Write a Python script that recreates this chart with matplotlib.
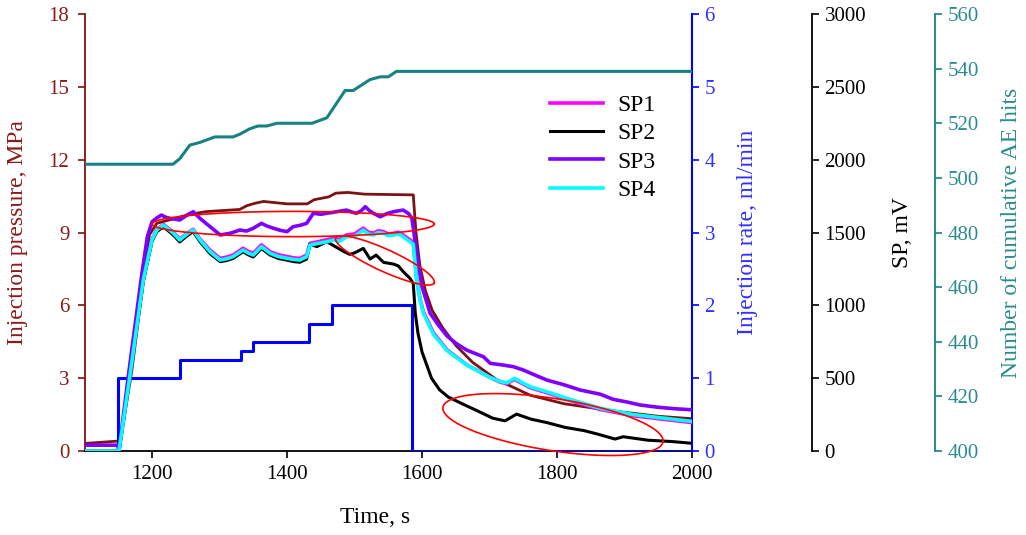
import numpy as np
import matplotlib
matplotlib.use("Agg")
import matplotlib.pyplot as plt

plt.rcParams['font.family'] = ['Liberation Serif', 'DejaVu Serif']

# Injection pressure, MPa
t_p = [1100, 1150, 1153, 1170, 1187, 1196, 1207, 1230, 1258, 1280, 1330, 1340, 1352,
       1365, 1400, 1430, 1440, 1462, 1472, 1490, 1515, 1587, 1591, 1597, 1605, 1615,
       1630, 1650, 1675, 1710, 1760, 1810, 1880, 1950, 2000]
pressure = [0.31, 0.41, 0.41, 3.3, 7.0, 8.9, 9.38, 9.55, 9.76, 9.86, 9.95, 10.1, 10.2,
            10.28, 10.18, 10.18, 10.35, 10.47, 10.62, 10.65, 10.58, 10.55, 9.0, 7.6, 6.6,
            5.8, 5.1, 4.35, 3.65, 2.95, 2.3, 1.95, 1.66, 1.43, 1.33]

# Injection rate, ml/min (step)
t_q = [1100, 1149, 1242, 1332, 1349, 1433, 1466, 1585, 2000]
rate = [0, 1.0, 1.25, 1.375, 1.5, 1.75, 2.0, 0, 0]

# Cumulative AE hits
t_ae = [1100, 1231, 1241, 1256, 1271, 1293, 1320, 1330, 1345, 1357, 1370, 1385, 1437,
        1459, 1486, 1498, 1523, 1538, 1550, 1562, 2000]
ae_hits = [505, 505, 507, 512, 513, 515, 515, 516, 518, 519, 519, 520, 520,
           522, 532, 532, 536, 537, 537, 539, 539]

# SP, mV
t_sp = [1100, 1151, 1167, 1187, 1200, 1207, 1217, 1232, 1241, 1252, 1261, 1271, 1286,
        1301, 1311, 1320, 1335, 1342, 1350, 1362, 1375, 1387, 1400, 1410, 1419, 1429,
        1434, 1446, 1459, 1469, 1478, 1488, 1500, 1513, 1520, 1528, 1535, 1543, 1550,
        1558, 1565, 1572, 1582, 1587, 1592, 1597, 1602, 1617, 1637, 1666, 1701, 1716,
        1726, 1737, 1760, 1790, 1812, 1864, 1913, 1950, 2000]
sp4 = [0, 0, 510, 1174, 1450, 1517, 1551, 1494, 1449, 1490, 1517, 1449, 1368,
       1311, 1320, 1334, 1380, 1360, 1345, 1403, 1357, 1335, 1323, 1315, 1311, 1334,
       1414, 1425, 1437, 1449, 1440, 1471, 1475, 1517, 1490, 1483, 1500, 1494, 1478,
       1483, 1490, 1471, 1437, 1420, 1174, 1037, 945, 800, 690, 590, 505, 476,
       469, 499, 441, 400, 365, 293, 250, 230, 203]
sp1 = [0, 0, 505, 1170, 1455, 1520, 1555, 1500, 1455, 1495, 1522, 1455, 1378,
       1322, 1332, 1345, 1392, 1372, 1358, 1415, 1368, 1347, 1335, 1326, 1322, 1345,
       1425, 1437, 1450, 1462, 1453, 1483, 1490, 1530, 1503, 1495, 1512, 1506, 1490,
       1495, 1502, 1483, 1450, 1430, 1180, 1045, 955, 810, 695, 592, 505, 472,
       463, 492, 435, 393, 358, 285, 242, 222, 195]

t_sp2 = [1100, 1151, 1167, 1187, 1200, 1207, 1217, 1232, 1241, 1252, 1261, 1271, 1286,
         1301, 1311, 1320, 1335, 1342, 1350, 1362, 1375, 1387, 1400, 1410, 1419, 1429,
         1434, 1444, 1459, 1469, 1483, 1493, 1500, 1513, 1523, 1532, 1543, 1558, 1565,
         1572, 1582, 1587, 1590, 1594, 1600, 1614, 1626, 1639, 1666, 1680, 1705, 1723,
         1740, 1762, 1785, 1812, 1840, 1861, 1886, 1898, 1935, 1970, 2000]
sp2 = [0, 0, 505, 1165, 1440, 1505, 1540, 1480, 1435, 1478, 1505, 1437, 1355,
       1300, 1308, 1322, 1368, 1348, 1332, 1390, 1345, 1322, 1310, 1300, 1296, 1318,
       1420, 1403, 1437, 1410, 1372, 1350, 1360, 1391, 1318, 1345, 1295, 1283, 1270,
       1232, 1186, 1150, 945, 808, 680, 500, 420, 370, 310, 280, 225, 207,
       253, 218, 195, 162, 140, 115, 82, 98, 74, 65, 53]

t_sp3 = [1100, 1149, 1151, 1165, 1185, 1193, 1200, 1207, 1214, 1220, 1227, 1241, 1252,
         1261, 1266, 1271, 1286, 1301, 1316, 1330, 1340, 1350, 1362, 1370, 1380, 1390,
         1400, 1409, 1420, 1429, 1439, 1450, 1459, 1474, 1488, 1496, 1503, 1510, 1516,
         1522, 1528, 1538, 1548, 1558, 1572, 1580, 1585, 1588, 1592, 1600, 1612, 1625,
         1637, 1650, 1666, 1691, 1701, 1720, 1735, 1750, 1768, 1785, 1810, 1834, 1864,
         1883, 1905, 1923, 1950, 1975, 2000]
sp3 = [40, 40, 0, 520, 1220, 1470, 1574, 1600, 1620, 1605, 1597, 1586, 1620,
       1643, 1620, 1597, 1540, 1483, 1495, 1517, 1510, 1529, 1563, 1545, 1529, 1515,
       1506, 1540, 1550, 1563, 1632, 1625, 1632, 1643, 1654, 1640, 1632, 1650, 1677,
       1650, 1632, 1608, 1630, 1643, 1654, 1630, 1597, 1500, 1357, 1128, 945, 860,
       790, 740, 693, 647, 602, 590, 579, 556, 520, 487, 455, 419, 390,
       355, 335, 316, 300, 290, 283]

# red annotation ellipses (time, MPa): centre, end of major axis, end of minor axis
ell_centres = [(1409, 9.35), (1545, 7.85), (1794, 1.09)]
ell_major = [(1618, 9.35), (1618, 6.92), (1957, 0.38)]
ell_minor = [(1409, 9.87), (1552, 8.26), (1800, 2.15)]

maroon = '#7d1212'
blue = '#0000ff'
teal = '#178282'

fig = plt.figure(figsize=(10.26, 5.35), dpi=100)
ax = fig.add_axes([0.0824, 0.157, 0.5921, 0.8168])
ax_q = ax.twinx()
ax_sp = ax.twinx()
ax_ae = ax.twinx()

ax.plot(t_p, pressure, color=maroon, lw=2)
ax_q.plot(t_q, rate, color=blue, lw=2.2, drawstyle='steps-post')
h1, = ax_sp.plot(t_sp, sp1, color='#ff00ff', lw=2.6, label='SP1')
h2, = ax_sp.plot(t_sp2, sp2, color='black', lw=2.2, label='SP2')
h3, = ax_sp.plot(t_sp3, sp3, color='#7f00ff', lw=2.6, label='SP3')
h4, = ax_sp.plot(t_sp, sp4, color='#00ffff', lw=2.6, label='SP4')
ax_ae.plot(t_ae, ae_hits, color=teal, lw=2.2)

th = np.linspace(0, 2 * np.pi, 300)
for c, a, b in zip(ell_centres, ell_major, ell_minor):
    ex = c[0] + np.cos(th) * (a[0] - c[0]) + np.sin(th) * (b[0] - c[0])
    ey = c[1] + np.cos(th) * (a[1] - c[1]) + np.sin(th) * (b[1] - c[1])
    ax_ae.plot(ex, ey, color='red', lw=1.2, transform=ax.transData, clip_on=False)

ax.set_xlim(1100, 2000)
ax.set_xticks([1200, 1400, 1600, 1800, 2000])
ax.set_ylim(0, 18)
ax.set_yticks(range(0, 19, 3))
ax_q.set_ylim(0, 6)
ax_q.set_yticks(range(0, 7))
ax_sp.set_ylim(0, 3000)
ax_sp.set_yticks(range(0, 3001, 500))
ax_ae.set_ylim(400, 560)
ax_ae.set_yticks(range(400, 561, 20))

for a in (ax, ax_q, ax_sp, ax_ae):
    a.spines['top'].set_visible(False)
for a in (ax_q, ax_sp, ax_ae):
    a.spines['left'].set_visible(False)
    a.spines['bottom'].set_visible(False)
ax.spines['right'].set_visible(False)
ax.spines['left'].set_color(maroon)
ax.spines['left'].set_linewidth(1.3)
ax.spines['bottom'].set_linewidth(1.3)
ax_q.spines['right'].set_color(blue)
ax_q.spines['right'].set_linewidth(1.5)
ax_sp.spines['right'].set_position(('axes', 1.1975))
ax_sp.spines['right'].set_linewidth(1.3)
ax_ae.spines['right'].set_position(('axes', 1.40))
ax_ae.spines['right'].set_color(teal)
ax_ae.spines['right'].set_linewidth(1.3)

ax.tick_params(axis='y', colors=maroon, labelcolor='#8b1a1a', direction='out',
               length=5, width=1.2, labelsize=15, pad=6)
ax.tick_params(axis='x', direction='out', length=5, width=1.2, labelsize=15, pad=5)
ax_q.tick_params(axis='y', colors=blue, labelcolor='#3030ff', direction='out',
                 length=5, width=1.2, labelsize=15, pad=4)
ax_sp.tick_params(axis='y', colors='black', direction='out',
                  length=5, width=1.2, labelsize=15, pad=4)
ax_ae.tick_params(axis='y', colors=teal, labelcolor='#2a8c8c', direction='out',
                  length=5, width=1.2, labelsize=15, pad=4)

ax.set_xlabel('Time, s', fontsize=17)
ax.xaxis.set_label_coords(0.478, -0.153)
ax.xaxis.label.set_va('center')
ax.set_ylabel('Injection pressure, MPa', fontsize=17, color='#8b1a1a')
ax.yaxis.set_label_coords(-0.111, 0.5)
ax.yaxis.label.set_va('center')
ax_q.set_ylabel('Injection rate, ml/min', fontsize=17, color='#3030ff')
ax_q.yaxis.set_label_coords(1.092, 0.5)
ax_q.yaxis.label.set_va('center')
ax_sp.set_ylabel('SP, mV', fontsize=17)
ax_sp.yaxis.set_label_coords(1.3457, 0.5)
ax_sp.yaxis.label.set_va('center')
ax_ae.set_ylabel('Number of cumulative AE hits', fontsize=17, color='#2a8c8c')
ax_ae.yaxis.set_label_coords(1.526, 0.5)
ax_ae.yaxis.label.set_va('center')

ax_ae.legend(handles=[h1, h2, h3, h4], loc='upper left', bbox_to_anchor=(0.766, 0.816),
             frameon=False, fontsize=17, handlelength=2.25, handletextpad=0.6,
             labelspacing=0.29, borderpad=0, borderaxespad=0)

fig.savefig('out.png', dpi=100)
